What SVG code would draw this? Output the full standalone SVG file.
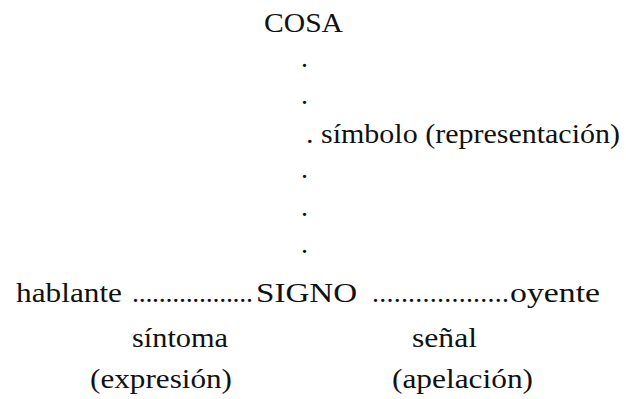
<svg xmlns="http://www.w3.org/2000/svg" width="626" height="399" viewBox="0 0 626 399">
<style>
text{font-family:"Liberation Serif","Times New Roman",serif;font-size:28px;fill:#111}
.dots{letter-spacing:0}
</style>
<rect width="626" height="399" fill="#fff"/>
<g id="cosa"><text x="264" y="32" textLength="79" lengthAdjust="spacingAndGlyphs">COSA</text></g>
<g id="connectors">
<text x="301" y="67">.</text>
<text x="301" y="104">.</text>
<text x="301" y="178">.</text>
<text x="301" y="216">.</text>
<text x="301" y="253">.</text>
<text class="dots" x="132" y="302" textLength="121" lengthAdjust="spacing">..................</text>
<text class="dots" x="372" y="302" textLength="137" lengthAdjust="spacing">...................</text>
</g>
<g id="simbolo"><text x="306" y="143" textLength="314" lengthAdjust="spacingAndGlyphs">. símbolo (representación)</text></g>
<g id="hablante"><text x="16" y="302" textLength="106" lengthAdjust="spacingAndGlyphs">hablante</text></g>
<g id="signo"><text x="256" y="302" textLength="101" lengthAdjust="spacingAndGlyphs">SIGNO</text></g>
<g id="oyente"><text x="510" y="302" textLength="90" lengthAdjust="spacingAndGlyphs">oyente</text></g>
<g id="sintoma">
<text x="132" y="347" textLength="96" lengthAdjust="spacingAndGlyphs">síntoma</text>
<text x="90" y="388" textLength="142" lengthAdjust="spacingAndGlyphs">(expresión)</text>
</g>
<g id="senal">
<text x="412" y="347" textLength="65" lengthAdjust="spacingAndGlyphs">señal</text>
<text x="392" y="388" textLength="141" lengthAdjust="spacingAndGlyphs">(apelación)</text>
</g>
</svg>
